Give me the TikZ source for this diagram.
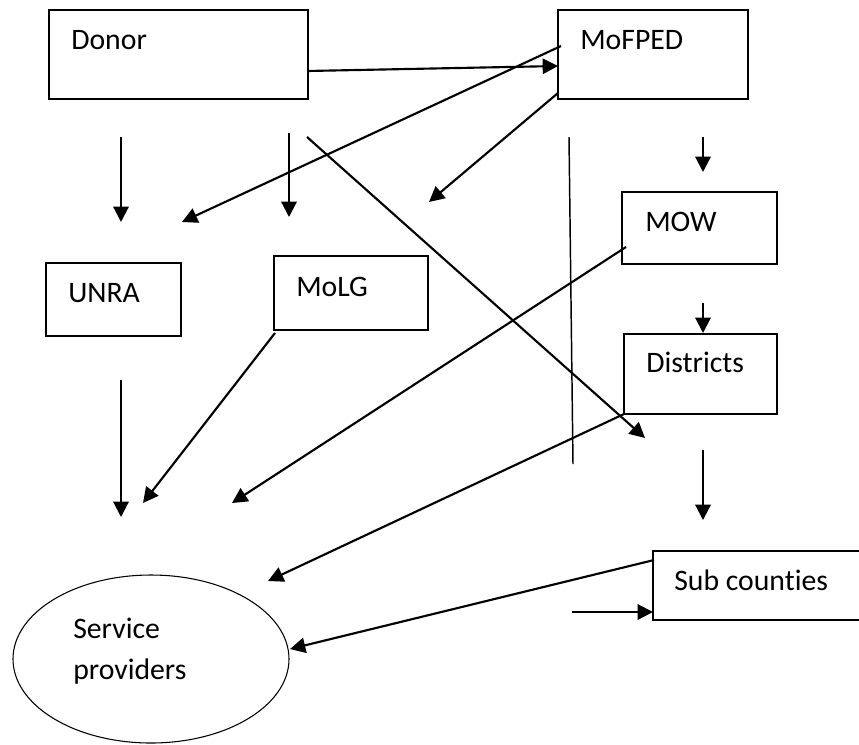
\documentclass[tikz,border=0pt]{standalone}
\usepackage{fontspec}
\setmainfont{Carlito}[Ligatures=NoCommon]
\usetikzlibrary{arrows.meta,shapes.geometric,fit}
\begin{document}
\begin{tikzpicture}[x=0.75pt,y=-0.75pt,
    font=\fontsize{22.3}{30.5}\selectfont,
    box/.style={draw,line width=0.8pt,inner sep=0pt},
    txt/.style={anchor=base west,inner sep=0pt},
    arr/.style={line width=1.6pt,-{Triangle[length=11.5pt,width=11.5pt]}}]
  \useasboundingbox (0,0) rectangle (859,744);

  \node[box,fit={(49,10) (308,99)}] (donor) {};
  \node[box,fit={(558,10) (748,99)}] (mofped) {};
  \node[box,fit={(46,263) (181,336)}] (unra) {};
  \node[box,fit={(274,256) (428,330)}] (molg) {};
  \node[box,fit={(622,192) (777,264)}] (mow) {};
  \node[box,fit={(624,334) (777,414)}] (districts) {};
  \node[box,fit={(653,551) (880,620)}] (subc) {};
  \node[draw,line width=0.8pt,ellipse,minimum width=207pt,minimum height=126pt] (sp) at (151,659) {};

  \node[txt] (tdonor) at (71,49) {Donor};
  \node[txt] (tmofped) at (580,49) {MoFPED};
  \node[txt] (tunra) at (68,302) {UNRA};
  \node[txt] (tmolg) at (296,296) {MoLG};
  \node[txt] (tmow) at (645,231) {MOW};
  \node[txt] (tdistricts) at (646,372) {Districts};
  \node[txt] (tsubc) at (674,590) {Sub counties};
  \node[txt,align=left] (tsp) at (73,679) {Service\\providers};

  \coordinate (A1) at (307,71);  \coordinate (A2) at (558,66);
  \coordinate (B1) at (561,46);  \coordinate (B2) at (182,222);
  \coordinate (C1) at (558,93);  \coordinate (C2) at (429,202);
  \coordinate (D1) at (121,137); \coordinate (D2) at (121,222);
  \coordinate (E1) at (289,133); \coordinate (E2) at (289,217);
  \coordinate (F1) at (307,137); \coordinate (F2) at (645,438);
  \coordinate (G1) at (569,137); \coordinate (G2) at (573,464);
  \coordinate (H1) at (703,137); \coordinate (H2) at (703,172);
  \coordinate (I1) at (703,303); \coordinate (I2) at (703,333);
  \coordinate (J1) at (703,450); \coordinate (J2) at (703,520);
  \coordinate (K1) at (572,612); \coordinate (K2) at (653,612);
  \coordinate (L1) at (275,333); \coordinate (L2) at (143,503);
  \coordinate (M1) at (121,380); \coordinate (M2) at (121,517);
  \coordinate (N1) at (626,247); \coordinate (N2) at (232,503);
  \coordinate (P1) at (624,414); \coordinate (P2) at (268,581);
  \coordinate (Q1) at (654,560); \coordinate (Q2) at (290,649);

  \draw[arr] (A1) -- (A2);
  \draw[arr] (B1) -- (B2);
  \draw[arr] (C1) -- (C2);
  \draw[arr] (D1) -- (D2);
  \draw[arr] (E1) -- (E2);
  \draw[arr] (F1) -- (F2);
  \draw[line width=1.1pt] (G1) -- (G2);
  \draw[arr] (H1) -- (H2);
  \draw[arr] (I1) -- (I2);
  \draw[arr] (J1) -- (J2);
  \draw[arr] (K1) -- (K2);
  \draw[arr] (L1) -- (L2);
  \draw[arr] (M1) -- (M2);
  \draw[arr] (N1) -- (N2);
  \draw[arr] (P1) -- (P2);
  \draw[arr] (Q1) -- (Q2);
\end{tikzpicture}
\end{document}
